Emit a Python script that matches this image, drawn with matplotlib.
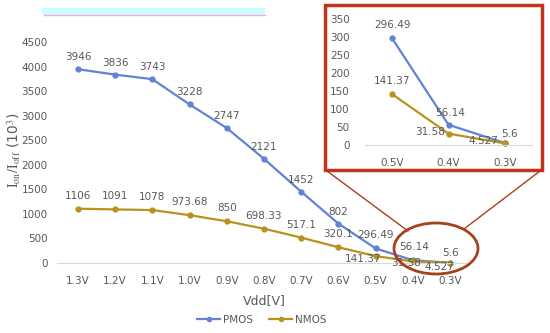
import matplotlib.pyplot as plt
from matplotlib.patches import Ellipse, Rectangle
from matplotlib.lines import Line2D

# данные
vdd = ["1.3V", "1.2V", "1.1V", "1.0V", "0.9V", "0.8V", "0.7V", "0.6V", "0.5V", "0.4V", "0.3V"]
pmos = [3946, 3836, 3743, 3228, 2747, 2121, 1452, 802, 296.49, 56.14, 5.6]
nmos = [1106, 1091, 1078, 973.68, 850, 698.33, 517.1, 320.1, 141.37, 31.58, 4.527]
pmos_lbl = ["3946", "3836", "3743", "3228", "2747", "2121", "1452", "802", "296.49", "56.14", "5.6"]
nmos_lbl = ["1106", "1091", "1078", "973.68", "850", "698.33", "517.1", "320.1", "141.37", "31.58", "4.527"]
zoom_n = 3  # последние три точки во врезке

blue = "#6282d4"
gold = "#b8921f"
grey = "#595959"
red = "#c0341c"
brown = "#a8401c"
fs = 7.5

plt.rcParams["mathtext.fontset"] = "stix"
fig = plt.figure(figsize=(5.5, 3.33), dpi=100)
W, H = 550, 333

def fx(p):
    return p / W

def fy(p):
    return 1 - p / H

# основной график
ax = fig.add_axes([fx(57.5), fy(263), fx(413), 221 / H])
x = list(range(len(vdd)))
ax.plot(x, pmos, color=blue, lw=1.6, marker="o", ms=3.5, clip_on=False, label="PMOS")
ax.plot(x, nmos, color=gold, lw=1.6, marker="o", ms=3.5, clip_on=False, label="NMOS")
ax.set_xlim(-0.55, len(vdd) - 0.45)
ax.set_ylim(0, 4500)
ax.set_yticks(range(0, 4501, 500))
ax.set_xticks(x)
ax.set_xticklabels(vdd)
for s in ["top", "right", "left"]:
    ax.spines[s].set_visible(False)
ax.spines["bottom"].set_color("#d9d9d9")
ax.tick_params(length=0, labelsize=fs, colors=grey, pad=9)
ax.tick_params(axis="y", pad=7)

p_off = [(0, 12)] * 8 + [(0, 13), (1, 13), (0, 10)]
n_off = [(0, 13)] * 8 + [(-13, -3), (-7, -2), (-11, -4)]
for i in range(len(vdd)):
    ax.annotate(pmos_lbl[i], (x[i], pmos[i]), xytext=p_off[i], textcoords="offset pixels",
                ha="center", va="center", fontsize=fs, color=grey)
    ax.annotate(nmos_lbl[i], (x[i], nmos[i]), xytext=n_off[i], textcoords="offset pixels",
                ha="center", va="center", fontsize=fs, color=grey)

ax.set_xlabel("Vdd[V]", fontsize=9, color=grey, labelpad=6)
fig.text(fx(14), fy(150), r"$\mathrm{I_{on}/I_{off}}$ (10$^{3}$)", rotation=90,
         ha="center", va="center", fontsize=10, color=grey)

handles = [Line2D([], [], color=blue, lw=1.6, marker="o", ms=3),
           Line2D([], [], color=gold, lw=1.6, marker="o", ms=3)]
fig.legend(handles, ["PMOS", "NMOS"], loc="center", bbox_to_anchor=(fx(262), fy(320)),
           ncol=2, frameon=False, fontsize=fs, labelcolor=grey, handlelength=2.2,
           columnspacing=1.5, handletextpad=0.3)

# врезка
fig.patches.append(Rectangle((fx(325), fy(170)), fx(217), 165 / H, transform=fig.transFigure,
                             fill=True, facecolor="white", edgecolor=red, lw=2.5, zorder=3))
ix = fig.add_axes([fx(365), fy(145), fx(167), 126 / H], zorder=5)
ix.patch.set_alpha(0)
xi = list(range(zoom_n))
ix.plot(xi, pmos[-zoom_n:], color=blue, lw=1.6, marker="o", ms=3.5, clip_on=False)
ix.plot(xi, nmos[-zoom_n:], color=gold, lw=1.6, marker="o", ms=3.5, clip_on=False)
ix.set_xlim(-0.48, zoom_n - 0.52)
ix.set_ylim(0, 350)
ix.set_yticks(range(0, 351, 50))
ix.set_xticks(xi)
ix.set_xticklabels(vdd[-zoom_n:])
for s in ["top", "right", "left"]:
    ix.spines[s].set_visible(False)
ix.spines["bottom"].set_color("#d9d9d9")
ix.tick_params(length=0, labelsize=fs, colors=grey, pad=9)
ix.tick_params(axis="y", pad=11)
ip_off = [(0, 13), (2, 12), (5, 9)]
in_off = [(0, 13), (-18, 2), (-22, 2)]
for j in range(zoom_n):
    ix.annotate(pmos_lbl[-zoom_n + j], (xi[j], pmos[-zoom_n + j]), xytext=ip_off[j],
                textcoords="offset pixels", ha="center", va="center", fontsize=fs, color=grey)
    ix.annotate(nmos_lbl[-zoom_n + j], (xi[j], nmos[-zoom_n + j]), xytext=in_off[j],
                textcoords="offset pixels", ha="center", va="center", fontsize=fs, color=grey)

# эллипс и соединительные линии
fig.patches.append(Ellipse((fx(436), fy(248.5)), fx(84), 51 / H, transform=fig.transFigure,
                           fill=False, edgecolor=brown, lw=2, zorder=6))
fig.lines.append(Line2D([fx(327), fx(408)], [fy(171), fy(231)], transform=fig.transFigure,
                        color=brown, lw=1))
fig.lines.append(Line2D([fx(540), fx(464)], [fy(171), fy(229)], transform=fig.transFigure,
                        color=brown, lw=1))

# полоска сверху (остаток заголовка)
fig.patches.append(Rectangle((fx(42), fy(15)), fx(223), 7 / H, transform=fig.transFigure,
                             facecolor="#cdfcfc", edgecolor="none"))
fig.lines.append(Line2D([fx(44), fx(265)], [fy(14.5), fy(14.5)], transform=fig.transFigure,
                        color="#f4a8ee", lw=1))

fig.savefig("out.png", dpi=100)
